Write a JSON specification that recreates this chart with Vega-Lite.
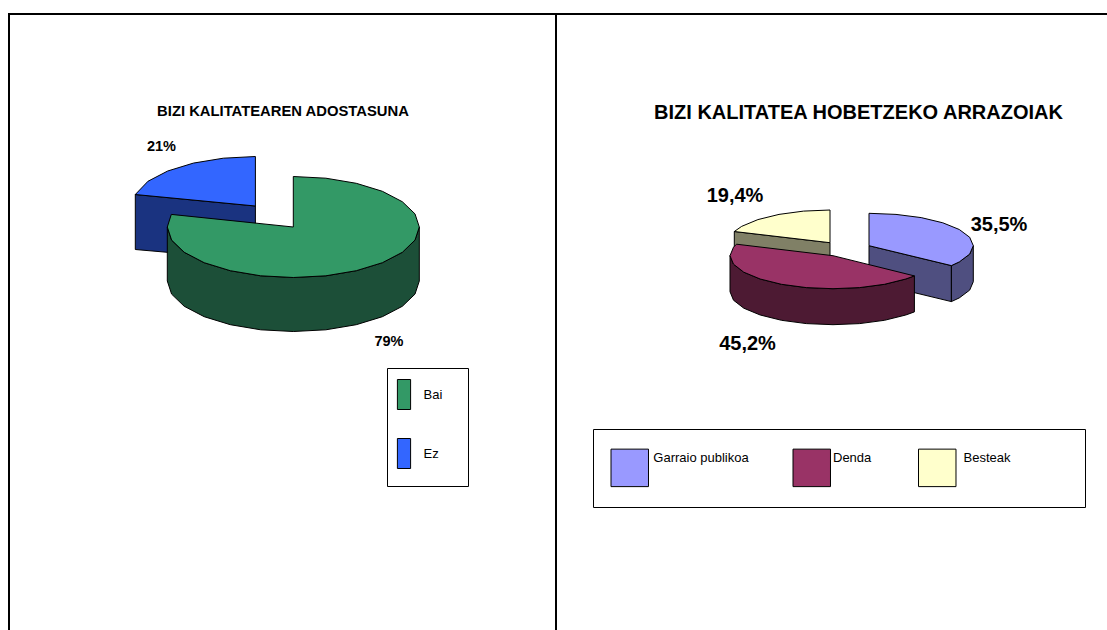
{"$schema":"https://vega.github.io/schema/vega-lite/v6.json","width":1107,"height":630,"padding":0,"autosize":{"type":"none"},"background":"white","config":{"view":{"stroke":null},"font":"Liberation Sans"},"resolve":{"scale":{"fill":"independent"},"legend":{"fill":"independent"}},
"encoding":{"x":{"field":"x","type":"quantitative","axis":null,"scale":{"domain":[0,1107],"nice":false,"zero":false}},"y":{"field":"y","type":"quantitative","axis":null,"scale":{"domain":[630,0],"nice":false,"zero":false}}},
"layer":[
{"data":{"values":[{"x":8,"x2":1107,"y":14,"y2":14},{"x":9,"x2":9,"y":14,"y2":630},{"x":556,"x2":556,"y":14,"y2":630}]},"mark":{"type":"rule","color":"black","strokeWidth":2},"encoding":{"x2":{"field":"x2"},"y2":{"field":"y2"}}},
{"data":{"values":[{"x":387.5,"x2":468.5,"y":368.5,"y2":486.5},{"x":593.5,"x2":1085.5,"y":429.5,"y2":507.5}]},"mark":{"type":"rect","fill":"white","stroke":"black","strokeWidth":1},"encoding":{"x2":{"field":"x2"},"y2":{"field":"y2"}}},
{"data":{"values":[
{"part":"Ez alboa","shape":"e1","i":0,"x":135.3,"y":194.5},{"part":"Ez alboa","shape":"e1","i":1,"x":255.4,"y":206},{"part":"Ez alboa","shape":"e1","i":2,"x":255.4,"y":260},{"part":"Ez alboa","shape":"e1","i":3,"x":135.3,"y":249.5},{"part":"Ez alboa","shape":"e1","i":4,"x":135.3,"y":194.5},
{"part":"Ez","shape":"e2","i":0,"x":135.3,"y":194.5},{"part":"Ez","shape":"e2","i":1,"x":148,"y":181.25},{"part":"Ez","shape":"e2","i":2,"x":167.7,"y":171},{"part":"Ez","shape":"e2","i":3,"x":193.4,"y":163.1},{"part":"Ez","shape":"e2","i":4,"x":223.3,"y":158.2},{"part":"Ez","shape":"e2","i":5,"x":255.4,"y":156.5},{"part":"Ez","shape":"e2","i":6,"x":255.4,"y":206},{"part":"Ez","shape":"e2","i":7,"x":135.3,"y":194.5},
{"part":"Bai alboa","shape":"b1","i":0,"x":419.3,"y":227},{"part":"Bai alboa","shape":"b1","i":1,"x":415,"y":240.1},{"part":"Bai alboa","shape":"b1","i":2,"x":402.4,"y":252.25},{"part":"Bai alboa","shape":"b1","i":3,"x":382.4,"y":262.7},{"part":"Bai alboa","shape":"b1","i":4,"x":356.3,"y":270.7},{"part":"Bai alboa","shape":"b1","i":5,"x":325.9,"y":275.8},{"part":"Bai alboa","shape":"b1","i":6,"x":293.3,"y":277.5},{"part":"Bai alboa","shape":"b1","i":7,"x":260.7,"y":275.8},{"part":"Bai alboa","shape":"b1","i":8,"x":230.3,"y":270.7},{"part":"Bai alboa","shape":"b1","i":9,"x":204.2,"y":262.7},{"part":"Bai alboa","shape":"b1","i":10,"x":184.2,"y":252.25},{"part":"Bai alboa","shape":"b1","i":11,"x":171.6,"y":240.1},{"part":"Bai alboa","shape":"b1","i":12,"x":167.3,"y":227},{"part":"Bai alboa","shape":"b1","i":13,"x":167.3,"y":281},{"part":"Bai alboa","shape":"b1","i":14,"x":171.6,"y":294.1},{"part":"Bai alboa","shape":"b1","i":15,"x":184.2,"y":306.25},{"part":"Bai alboa","shape":"b1","i":16,"x":204.2,"y":316.7},{"part":"Bai alboa","shape":"b1","i":17,"x":230.3,"y":324.7},{"part":"Bai alboa","shape":"b1","i":18,"x":260.7,"y":329.8},{"part":"Bai alboa","shape":"b1","i":19,"x":293.3,"y":331.5},{"part":"Bai alboa","shape":"b1","i":20,"x":325.9,"y":329.8},{"part":"Bai alboa","shape":"b1","i":21,"x":356.3,"y":324.7},{"part":"Bai alboa","shape":"b1","i":22,"x":382.4,"y":316.7},{"part":"Bai alboa","shape":"b1","i":23,"x":402.4,"y":306.25},{"part":"Bai alboa","shape":"b1","i":24,"x":415,"y":294.1},{"part":"Bai alboa","shape":"b1","i":25,"x":419.3,"y":281},{"part":"Bai alboa","shape":"b1","i":26,"x":419.3,"y":227},
{"part":"Bai","shape":"b2","i":0,"x":293.3,"y":176.5},{"part":"Bai","shape":"b2","i":1,"x":325.9,"y":178.2},{"part":"Bai","shape":"b2","i":2,"x":356.3,"y":183.3},{"part":"Bai","shape":"b2","i":3,"x":382.4,"y":191.3},{"part":"Bai","shape":"b2","i":4,"x":402.4,"y":201.75},{"part":"Bai","shape":"b2","i":5,"x":415,"y":213.9},{"part":"Bai","shape":"b2","i":6,"x":419.3,"y":227},{"part":"Bai","shape":"b2","i":7,"x":415,"y":240.1},{"part":"Bai","shape":"b2","i":8,"x":402.4,"y":252.25},{"part":"Bai","shape":"b2","i":9,"x":382.4,"y":262.7},{"part":"Bai","shape":"b2","i":10,"x":356.3,"y":270.7},{"part":"Bai","shape":"b2","i":11,"x":325.9,"y":275.8},{"part":"Bai","shape":"b2","i":12,"x":293.3,"y":277.5},{"part":"Bai","shape":"b2","i":13,"x":260.7,"y":275.8},{"part":"Bai","shape":"b2","i":14,"x":230.3,"y":270.7},{"part":"Bai","shape":"b2","i":15,"x":204.2,"y":262.7},{"part":"Bai","shape":"b2","i":16,"x":184.2,"y":252.25},{"part":"Bai","shape":"b2","i":17,"x":171.6,"y":240.1},{"part":"Bai","shape":"b2","i":18,"x":167.3,"y":227},{"part":"Bai","shape":"b2","i":19,"x":171.3,"y":214.4},{"part":"Bai","shape":"b2","i":20,"x":293.3,"y":227},{"part":"Bai","shape":"b2","i":21,"x":293.3,"y":176.5}
]},"mark":{"type":"line","stroke":"black","strokeWidth":1,"strokeJoin":"round"},"encoding":{"detail":{"field":"shape"},"order":{"field":"i"},"fill":{"field":"part","type":"nominal","scale":{"domain":["Bai","Ez","Bai alboa","Ez alboa"],"range":["#339966","#3366FF","#1C4F38","#1A3380"]},"legend":{"values":["Bai","Ez"],"title":null,"orient":"none","legendX":388.5,"legendY":379,"padding":0,"symbolType":"M-0.44,-1H0.44V1H-0.44Z","symbolSize":900,"symbolStrokeColor":"black","symbolStrokeWidth":1,"symbolOpacity":1,"rowPadding":24,"labelFontSize":13,"labelOffset":4,"labelColor":"black"}}}},
{"data":{"values":[
{"part":"Besteak alboa","shape":"c1","i":0,"x":734.3,"y":231.5},{"part":"Besteak alboa","shape":"c1","i":1,"x":830,"y":242.7},{"part":"Besteak alboa","shape":"c1","i":2,"x":830,"y":278.7},{"part":"Besteak alboa","shape":"c1","i":3,"x":734.3,"y":267.5},{"part":"Besteak alboa","shape":"c1","i":4,"x":734.3,"y":231.5},
{"part":"Besteak","shape":"c2","i":0,"x":734.3,"y":231.5},{"part":"Besteak","shape":"c2","i":1,"x":741.7,"y":226.35},{"part":"Besteak","shape":"c2","i":2,"x":757.9,"y":219.6},{"part":"Besteak","shape":"c2","i":3,"x":779,"y":214.4},{"part":"Besteak","shape":"c2","i":4,"x":803.6,"y":211.1},{"part":"Besteak","shape":"c2","i":5,"x":830,"y":210},{"part":"Besteak","shape":"c2","i":6,"x":830,"y":242.7},{"part":"Besteak","shape":"c2","i":7,"x":734.3,"y":231.5},
{"part":"Garraio publikoa alboa","shape":"g1","i":0,"x":869,"y":245.7},{"part":"Garraio publikoa alboa","shape":"g1","i":1,"x":951.4,"y":265.6},{"part":"Garraio publikoa alboa","shape":"g1","i":2,"x":951.4,"y":301.6},{"part":"Garraio publikoa alboa","shape":"g1","i":3,"x":869,"y":281.7},{"part":"Garraio publikoa alboa","shape":"g1","i":4,"x":869,"y":245.7},
{"part":"Garraio publikoa alboa","shape":"g2","i":0,"x":973.3,"y":245.7},{"part":"Garraio publikoa alboa","shape":"g2","i":1,"x":969.7,"y":254.1},{"part":"Garraio publikoa alboa","shape":"g2","i":2,"x":959.3,"y":261.9},{"part":"Garraio publikoa alboa","shape":"g2","i":3,"x":951.4,"y":265.6},{"part":"Garraio publikoa alboa","shape":"g2","i":4,"x":951.4,"y":301.6},{"part":"Garraio publikoa alboa","shape":"g2","i":5,"x":959.3,"y":297.9},{"part":"Garraio publikoa alboa","shape":"g2","i":6,"x":969.7,"y":290.1},{"part":"Garraio publikoa alboa","shape":"g2","i":7,"x":973.3,"y":281.7},{"part":"Garraio publikoa alboa","shape":"g2","i":8,"x":973.3,"y":245.7},
{"part":"Garraio publikoa","shape":"g3","i":0,"x":869,"y":213.3},{"part":"Garraio publikoa","shape":"g3","i":1,"x":896,"y":214.4},{"part":"Garraio publikoa","shape":"g3","i":2,"x":921.2,"y":217.6},{"part":"Garraio publikoa","shape":"g3","i":3,"x":942.8,"y":222.8},{"part":"Garraio publikoa","shape":"g3","i":4,"x":959.3,"y":229.5},{"part":"Garraio publikoa","shape":"g3","i":5,"x":969.7,"y":237.3},{"part":"Garraio publikoa","shape":"g3","i":6,"x":973.3,"y":245.7},{"part":"Garraio publikoa","shape":"g3","i":7,"x":969.7,"y":254.1},{"part":"Garraio publikoa","shape":"g3","i":8,"x":959.3,"y":261.9},{"part":"Garraio publikoa","shape":"g3","i":9,"x":951.4,"y":265.6},{"part":"Garraio publikoa","shape":"g3","i":10,"x":869,"y":245.7},{"part":"Garraio publikoa","shape":"g3","i":11,"x":869,"y":213.3},
{"part":"Denda alboa","shape":"d1","i":0,"x":914.4,"y":275.9},{"part":"Denda alboa","shape":"d1","i":1,"x":905.8,"y":279},{"part":"Denda alboa","shape":"d1","i":2,"x":884.5,"y":284.3},{"part":"Denda alboa","shape":"d1","i":3,"x":859.7,"y":287.6},{"part":"Denda alboa","shape":"d1","i":4,"x":833,"y":288.7},{"part":"Denda alboa","shape":"d1","i":5,"x":806.3,"y":287.6},{"part":"Denda alboa","shape":"d1","i":6,"x":781.5,"y":284.3},{"part":"Denda alboa","shape":"d1","i":7,"x":760.2,"y":279},{"part":"Denda alboa","shape":"d1","i":8,"x":743.8,"y":272.2},{"part":"Denda alboa","shape":"d1","i":9,"x":733.5,"y":264.2},{"part":"Denda alboa","shape":"d1","i":10,"x":730,"y":255.7},{"part":"Denda alboa","shape":"d1","i":11,"x":730,"y":291.7},{"part":"Denda alboa","shape":"d1","i":12,"x":733.5,"y":300.2},{"part":"Denda alboa","shape":"d1","i":13,"x":743.8,"y":308.2},{"part":"Denda alboa","shape":"d1","i":14,"x":760.2,"y":315},{"part":"Denda alboa","shape":"d1","i":15,"x":781.5,"y":320.3},{"part":"Denda alboa","shape":"d1","i":16,"x":806.3,"y":323.6},{"part":"Denda alboa","shape":"d1","i":17,"x":833,"y":324.7},{"part":"Denda alboa","shape":"d1","i":18,"x":859.7,"y":323.6},{"part":"Denda alboa","shape":"d1","i":19,"x":884.5,"y":320.3},{"part":"Denda alboa","shape":"d1","i":20,"x":905.8,"y":315},{"part":"Denda alboa","shape":"d1","i":21,"x":914.4,"y":311.9},{"part":"Denda alboa","shape":"d1","i":22,"x":914.4,"y":275.9},
{"part":"Denda","shape":"d2","i":0,"x":914.4,"y":275.9},{"part":"Denda","shape":"d2","i":1,"x":905.8,"y":279},{"part":"Denda","shape":"d2","i":2,"x":884.5,"y":284.3},{"part":"Denda","shape":"d2","i":3,"x":859.7,"y":287.6},{"part":"Denda","shape":"d2","i":4,"x":833,"y":288.7},{"part":"Denda","shape":"d2","i":5,"x":806.3,"y":287.6},{"part":"Denda","shape":"d2","i":6,"x":781.5,"y":284.3},{"part":"Denda","shape":"d2","i":7,"x":760.2,"y":279},{"part":"Denda","shape":"d2","i":8,"x":743.8,"y":272.2},{"part":"Denda","shape":"d2","i":9,"x":733.5,"y":264.2},{"part":"Denda","shape":"d2","i":10,"x":730,"y":255.7},{"part":"Denda","shape":"d2","i":11,"x":733.5,"y":247.2},{"part":"Denda","shape":"d2","i":12,"x":736.5,"y":244.2},{"part":"Denda","shape":"d2","i":13,"x":833,"y":255.7},{"part":"Denda","shape":"d2","i":14,"x":914.4,"y":275.9}
]},"mark":{"type":"line","stroke":"black","strokeWidth":1,"strokeJoin":"round"},"encoding":{"detail":{"field":"shape"},"order":{"field":"i"},"fill":{"field":"part","type":"nominal","scale":{"domain":["Garraio publikoa","Denda","Besteak","Garraio publikoa alboa","Denda alboa","Besteak alboa"],"range":["#9999FF","#993366","#FFFFCC","#4F4F80","#4D1A33","#808066"]},"legend":{"values":["Garraio publikoa","Denda","Besteak"],"title":null,"orient":"none","legendX":611,"legendY":448,"padding":0,"columns":3,"columnPadding":42,"gridAlign":"each","symbolType":"M-1,-1H1V1H-1Z","symbolSize":1406,"symbolStrokeColor":"black","symbolStrokeWidth":1,"symbolOpacity":1,"labelFontSize":13,"labelOffset":4,"labelColor":"black","encode":{"labels":{"update":{"dy":{"value":-10},"x":{"signal":"datum.label==='Besteak'?49.5:datum.label==='Denda'?40:42.3"}}},"symbols":{"update":{"x":{"signal":"datum.label==='Besteak'?23.25:18.75"}}}}}}}},
{"data":{"values":[{"t":"BIZI KALITATEAREN ADOSTASUNA","x":283,"y":112}]},"mark":{"type":"text","fontWeight":"bold","fontSize":14.8,"color":"black"},"encoding":{"text":{"field":"t"}}},
{"data":{"values":[{"t":"21%","x":161.5,"y":147},{"t":"79%","x":389,"y":342}]},"mark":{"type":"text","fontWeight":"bold","fontSize":14.5,"color":"black"},"encoding":{"text":{"field":"t"}}},
{"data":{"values":[{"t":"BIZI KALITATEA HOBETZEKO ARRAZOIAK","x":858.5,"y":113},{"t":"19,4%","x":735,"y":196},{"t":"35,5%","x":999,"y":225},{"t":"45,2%","x":747.5,"y":344}]},"mark":{"type":"text","fontWeight":"bold","fontSize":20,"color":"black"},"encoding":{"text":{"field":"t"}}}
]}
